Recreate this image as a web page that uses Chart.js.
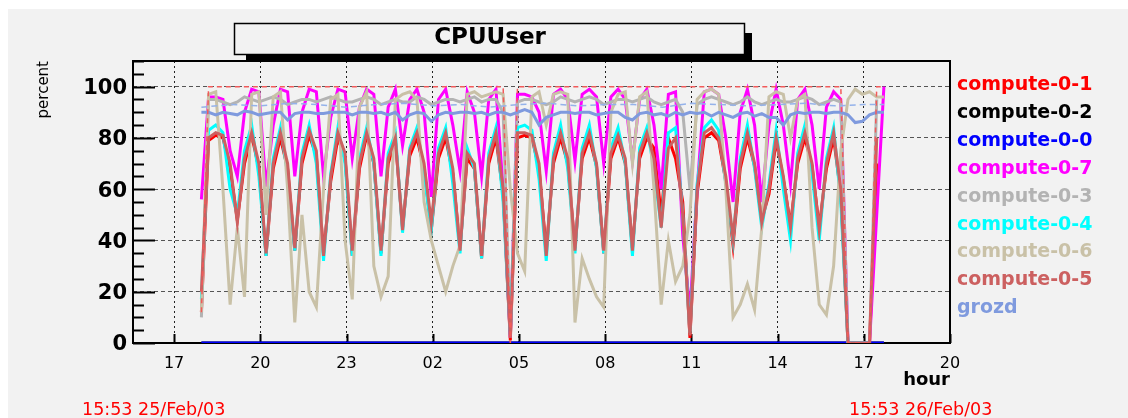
<!DOCTYPE html>
<html>
<head>
<meta charset="utf-8">
<title>CPUUser</title>
<script src="https://cdn.jsdelivr.net/npm/chart.js@4.4.0/dist/chart.umd.min.js"></script>
<style>
  html, body { margin: 0; padding: 0; background: #fff; overflow: hidden; }
  canvas { display: block; }
</style>
</head>
<body>
<canvas id="cpu" width="1128" height="418"></canvas>
<script>
const FONT = '"DejaVu Sans", Verdana, sans-serif';
const BG = '#f2f2f2';

// sample times in hours after 17:00 on 25/Feb (one sample every 15 min)
const sampleHours = Array.from({ length: 96 }, (_, i) => 0.95 + i * 0.25);
const xTicks = [0, 3, 6, 9, 12, 15, 18, 21, 24, 27];
const yTicks = [0, 20, 40, 60, 80, 100];
const startStamp = '15:53 25/Feb/03';
const endStamp = '15:53 26/Feb/03';

const compute01 = [12,79,81,80,68,48,70,81,68,34, 68,80,68,36,70,81,73,35,63,80,
  72,34,68,81,70,35,70,79,45,73, 80,68,44,72,80,66,37,72,68,33,
  70,80,58,1,80,81,80,68,36,70, 80,70,37,72,80,69,35,72,80,70,
  37,72,80,76,50,80,72,55,2,58, 80,82,79,63,38,68,80,69,48,58,
  79,64,46,70,80,69,45,68,80,58, 0,0,0,0,70,null];

const compute07 = [56,96,96,95,75,65,90,99,98,61, 85,99,98,65,90,99,98,65,88,99,
  98,72,92,99,97,65,92,99,77,95, 99,90,57,95,99,85,67,98,90,65,
  95,99,60,2,97,97,96,90,67,97, 99,95,71,97,99,96,70,96,99,95,
  71,95,99,85,60,97,98,42,12,60, 98,99,97,80,55,90,99,85,55,85,
  99,85,62,95,99,85,60,92,98,95, 0,0,0,0,50,100];

const compute03 = [10,95,95,94,93,94,96,95,94,95, 96,95,93,94,95,95,94,95,96,95,
  94,94,95,96,95,93,94,95,94,94, 96,95,93,94,95,95,94,95,96,94,
  95,95,90,5,94,95,95,94,93,94, 96,95,94,95,96,95,93,94,95,95,
  94,95,96,94,93,94,95,90,60,93, 95,96,95,94,93,94,96,94,93,94,
  95,94,94,95,96,95,93,94,95,94, 0,0,0,0,95,null];

const compute04 = [17,83,85,82,60,50,75,85,65,34, 72,84,66,36,74,85,70,32,66,84,
  70,34,72,84,70,34,74,82,43,76, 84,66,44,76,84,62,35,76,68,33,
  74,84,55,3,84,85,83,64,32,74, 85,68,35,76,85,68,35,76,84,70,
  34,76,84,68,45,82,84,50,4,62, 84,87,83,62,40,72,85,68,45,62,
  83,60,40,74,85,66,40,72,84,55, 0,0,0,0,null,null];

const compute06 = [12,97,98,60,15,45,18,97,98,50, 96,98,60,8,50,20,14,60,95,97,
  40,17,92,98,30,18,26,95,97,98, 95,55,40,30,20,30,38,97,98,96,
  97,98,97,60,35,28,96,98,85,97, 98,97,8,33,25,18,14,90,97,98,
  70,96,98,60,15,40,24,30,50,95, 98,99,97,60,10,15,23,13,45,96,
  98,97,80,95,97,45,15,11,30,75, 95,99,97,98,96,96];

const compute05 = [20,80,82,81,70,47,72,82,70,35, 70,82,70,37,72,83,75,34,65,82,
  74,36,70,82,72,36,72,80,44,75, 82,70,47,74,82,68,36,74,70,34,
  72,82,60,2,82,82,81,70,34,72, 82,72,36,74,82,70,36,74,81,72,
  36,74,82,72,45,76,80,50,3,60, 82,84,80,65,41,70,82,70,47,60,
  80,65,45,72,82,70,44,70,82,60, 0,0,0,0,80,null];

const grozd = [90,90,89,90,89.5,89,90.5,90,89,89.5, 90,90,87,89.5,90,90,89.5,89.5,90,90,
  90,89,90,90,89.5,90,89,90,87,89, 90,89.5,86.5,89,90,89.5,90,90,89.5,90,
  89,90,90,89,90,91,90,85,88,89, 90,90,89.5,90,90,89,89.5,90,90,88,
  87,89.5,90,89,89.5,88.5,90,89,90,89.5, 90,88.5,90,89,88,89.5,90,88.5,89.5,88,
  88,85,89,90,89.5,90,90,89.5,90,90, 89,86,86.5,89,90,90];

// idle nodes
const idleHours = [0.95, 24.7];
const compute02 = [0, 0];
const compute00 = [0, 0];

// dashed companion curves (no legend entry)
const topDashHours = [0.95, 1.2, 11.45, 11.7, 11.95, 23.2, 23.45, 24.2, 24.45, 24.7];
const topDash = [12, 100, 100, 0, 100, 100, 0, 0, 100, 100];
const blueDashHours = [0.95, 2, 3, 4, 5, 6, 7, 8, 9, 10, 11, 12, 13, 14, 15, 16, 17, 18, 19, 20, 21, 22, 23, 24, 24.7];
const blueDash = [92, 93, 92.5, 93.5, 93, 92, 93, 93.5, 92.5, 93, 92, 93, 93.5, 92.5, 93, 93, 92, 93.5, 93, 92.5, 93, 93.5, 92.5, 93, 93];

const series = [
  { label: 'compute-0-1', color: '#ff0000', hours: sampleHours, values: compute01 },
  { label: 'compute-0-2', color: '#000000', hours: idleHours, values: compute02 },
  { label: 'compute-0-0', color: '#0000ff', hours: idleHours, values: compute00 },
  { label: 'compute-0-7', color: '#ff00ff', hours: sampleHours, values: compute07 },
  { label: 'compute-0-3', color: '#b3b3b3', hours: sampleHours, values: compute03 },
  { label: 'compute-0-4', color: '#00ffff', hours: sampleHours, values: compute04 },
  { label: 'compute-0-6', color: '#c9c1a7', hours: sampleHours, values: compute06 },
  { label: 'compute-0-5', color: '#cc6060', hours: sampleHours, values: compute05 },
  { label: 'grozd', color: '#7f9ade', hours: sampleHours, values: grozd },
];
const extras = [
  { label: 'top', color: '#f25a5a', hours: topDashHours, values: topDash, dash: [5, 4] },
  { label: 'blue', color: '#94b2ea', hours: blueDashHours, values: blueDash, dash: [6, 4] },
];

const toPoints = (hours, values) => values.map((v, i) => ({ x: hours[i], y: v }));

const datasets = series.concat(extras).map(s => ({
  label: s.label,
  data: toPoints(s.hours, s.values),
  borderColor: s.color,
  borderWidth: s.dash ? 1.5 : 3,
  borderDash: s.dash || [],
  pointRadius: 0,
  tension: 0,
  fill: false,
}));

const hourLabel = v => String((17 + v) % 24).padStart(2, '0');

const rootLook = {
  id: 'rootLook',
  beforeDraw(chart) {
    const { ctx, width, height } = chart;
    ctx.save();
    ctx.fillStyle = '#fff';
    ctx.fillRect(0, 0, width, height);
    ctx.fillStyle = BG;
    ctx.fillRect(8, 9, width - 8, height - 9);
    ctx.restore();
  },
  beforeDatasetsDraw(chart) {
    const { ctx, chartArea: a, scales: { x, y } } = chart;
    ctx.save();
    ctx.strokeStyle = '#000';
    ctx.lineWidth = 2;
    ctx.beginPath();
    for (let v = 0; v <= 110; v += 5) {
      const py = Math.round(y.getPixelForValue(v)) + 0.5;
      const len = v % 20 === 0 ? 22 : 11;
      ctx.moveTo(a.left, py);
      ctx.lineTo(a.left + len, py);
    }
    xTicks.forEach(h => {
      const px = Math.round(x.getPixelForValue(h)) + 0.5;
      ctx.moveTo(px, a.bottom);
      ctx.lineTo(px, a.bottom - 9);
    });
    ctx.stroke();
    ctx.strokeRect(a.left, a.top, a.right - a.left, a.bottom - a.top);
    ctx.restore();
  },
  afterDraw(chart) {
    const { ctx } = chart;
    ctx.save();
    // title box with shadow
    ctx.fillStyle = '#000';
    ctx.fillRect(246, 33, 506, 28);
    ctx.fillStyle = BG;
    ctx.fillRect(234, 23, 511, 32);
    ctx.strokeStyle = '#000';
    ctx.lineWidth = 1.5;
    ctx.strokeRect(234.5, 23.5, 510, 31);
    ctx.fillStyle = '#000';
    ctx.font = 'bold 23px ' + FONT;
    ctx.textAlign = 'center';
    ctx.textBaseline = 'middle';
    ctx.fillText('CPUUser', 490, 38);

    // legend: coloured names only
    ctx.font = 'bold 19px ' + FONT;
    ctx.textAlign = 'left';
    ctx.textBaseline = 'alphabetic';
    series.forEach((s, k) => {
      ctx.fillStyle = s.color;
      ctx.fillText(s.label, 957, 90 + k * 27.9);
    });

    // time stamps
    ctx.font = '17.5px ' + FONT;
    ctx.fillStyle = '#ff0000';
    ctx.fillText(startStamp, 82, 415);
    ctx.fillText(endStamp, 849, 415);
    ctx.restore();
  }
};

new Chart(document.getElementById('cpu'), {
  type: 'line',
  data: { datasets: datasets.slice().reverse() },
  options: {
    responsive: false,
    animation: false,
    layout: { padding: { left: 0, top: 61, right: 178, bottom: 0 } },
    plugins: { legend: { display: false }, tooltip: { enabled: false } },
    scales: {
      x: {
        type: 'linear',
        min: -1.43,
        max: 27,
        afterBuildTicks: s => { s.ticks = xTicks.map(v => ({ value: v })); },
        afterFit: s => { s.height = 75; },
        ticks: {
          callback: v => hourLabel(v),
          color: '#000',
          font: { family: FONT, size: 16 },
          padding: 11,
          maxRotation: 0,
          autoSkip: false,
        },
        grid: { color: '#222', lineWidth: 1, drawTicks: false },
        border: { display: false, dash: [2, 3] },
        title: {
          display: true,
          text: 'hour',
          align: 'end',
          color: '#000',
          font: { family: FONT, size: 18, weight: 'bold' },
          padding: { top: 0, bottom: 27 },
        },
      },
      y: {
        min: 0,
        max: 110,
        afterBuildTicks: s => { s.ticks = yTicks.map(v => ({ value: v })); },
        afterFit: s => { s.width = 133; },
        ticks: {
          color: '#000',
          font: { family: FONT, size: 21, weight: 'bold' },
          padding: 6,
          labelOffset: 2,
        },
        grid: { color: '#555', lineWidth: 1, drawTicks: false },
        border: { display: false, dash: [4, 3] },
        title: {
          display: true,
          text: 'percent',
          align: 'end',
          color: '#000',
          font: { family: FONT, size: 15 },
          padding: { top: 35, bottom: 0 },
        },
      },
    },
  },
  plugins: [rootLook],
});
</script>
</body>
</html>
